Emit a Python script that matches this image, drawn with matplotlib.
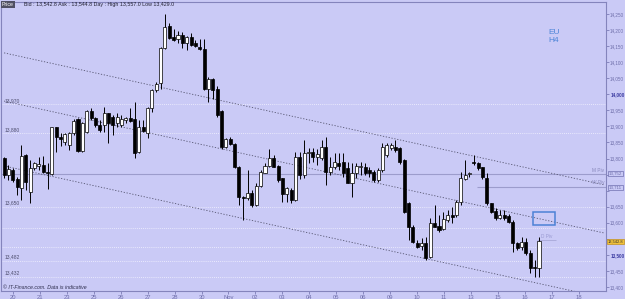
import numpy as np
import matplotlib.pyplot as plt
from matplotlib.patches import Rectangle

plt.rcParams['font.family'] = ['Liberation Sans', 'DejaVu Sans']

# EU H4 candles (price units)
opens = [13803, 13749, 13764, 13735, 13707, 13811, 13697, 13770, 13777, 13780,
         13759, 13752, 13897, 13868, 13851, 13842, 13879, 13922, 13824, 13884,
         13949, 13925, 13904, 13904, 13941, 13930, 13910, 13904, 13920, 13925,
         13922, 13821, 13899, 13879, 13956, 14013, 14034, 14143, 14213, 14177,
         14171, 14185, 14159, 14178, 14161, 14146, 14140, 14016, 14047, 14016,
         13949, 13835, 13860, 13845, 13775, 13681, 13676, 13694, 13655, 13715,
         13756, 13777, 13801, 13777, 13738, 13690, 13702, 13671, 13806, 13749,
         13816, 13821, 13804, 13801, 13837, 13759, 13773, 13787, 13790, 13770,
         13725, 13754, 13773, 13775, 13764, 13759, 13733, 13764, 13811, 13832,
         13837, 13832, 13795, 13661, 13586, 13538, 13528, 13536, 13494, 13598,
         13590, 13580, 13609, 13624, 13624, 13666, 13736, 13752, 13790, 13787,
         13773, 13738, 13661, 13638, 13614, 13624, 13621, 13603, 13536, 13524,
         13541, 13505, 13463, 13458]
highs = [13806, 13780, 13771, 13744, 13842, 13814, 13795, 13790, 13806, 13808,
         13785, 13899, 13899, 13878, 13879, 13884, 13922, 13925, 13915, 13951,
         13956, 13930, 13920, 13961, 13943, 13936, 13941, 13936, 13930, 13956,
         13977, 13920, 13920, 13961, 14016, 14039, 14148, 14250, 14221, 14202,
         14198, 14195, 14182, 14190, 14169, 14171, 14171, 14053, 14050, 14026,
         13951, 13863, 13868, 13847, 13777, 13683, 13764, 13702, 13723, 13764,
         13785, 13829, 13811, 13780, 13739, 13712, 13707, 13821, 13821, 13857,
         13832, 13832, 13830, 13858, 13868, 13806, 13816, 13816, 13816, 13790,
         13785, 13785, 13790, 13785, 13775, 13764, 13770, 13847, 13847, 13847,
         13858, 13837, 13800, 13666, 13593, 13546, 13551, 13557, 13614, 13655,
         13624, 13634, 13640, 13650, 13671, 13759, 13795, 13759, 13811, 13790,
         13775, 13754, 13663, 13645, 13640, 13640, 13627, 13609, 13541, 13557,
         13552, 13515, 13484, 13557]
lows = [13739, 13733, 13728, 13687, 13671, 13702, 13661, 13764, 13764, 13755,
        13705, 13749, 13821, 13840, 13842, 13827, 13873, 13821, 13821, 13879,
        13920, 13899, 13884, 13884, 13849, 13873, 13899, 13899, 13910, 13915,
        13801, 13818, 13884, 13863, 13946, 14008, 14016, 14140, 14171, 14167,
        14159, 14143, 14138, 14150, 14148, 14138, 14013, 13977, 13984, 13930,
        13829, 13832, 13842, 13770, 13655, 13609, 13671, 13650, 13652, 13712,
        13754, 13773, 13773, 13728, 13666, 13666, 13663, 13668, 13735, 13739,
        13785, 13790, 13780, 13795, 13718, 13749, 13767, 13764, 13744, 13723,
        13681, 13738, 13749, 13749, 13744, 13728, 13728, 13759, 13806, 13827,
        13821, 13783, 13630, 13546, 13536, 13520, 13515, 13484, 13489, 13586,
        13572, 13577, 13603, 13600, 13619, 13655, 13733, 13744, 13780, 13764,
        13735, 13655, 13630, 13609, 13611, 13609, 13598, 13510, 13515, 13515,
        13500, 13443, 13432, 13430]
closes = [13749, 13767, 13733, 13710, 13808, 13728, 13770, 13785, 13783, 13759,
          13754, 13897, 13868, 13860, 13876, 13879, 13918, 13824, 13910, 13949,
          13925, 13904, 13889, 13941, 13910, 13904, 13928, 13922, 13925, 13918,
          13818, 13899, 13887, 13956, 14013, 14032, 14143, 14210, 14174, 14169,
          14185, 14159, 14179, 14154, 14150, 14140, 14016, 14047, 14013, 13936,
          13835, 13860, 13845, 13773, 13679, 13676, 13694, 13655, 13715, 13759,
          13777, 13801, 13775, 13733, 13690, 13707, 13671, 13806, 13749, 13816,
          13821, 13804, 13815, 13837, 13759, 13775, 13790, 13777, 13754, 13725,
          13754, 13777, 13777, 13754, 13756, 13733, 13764, 13837, 13842, 13842,
          13827, 13790, 13635, 13586, 13541, 13526, 13536, 13489, 13598, 13588,
          13577, 13611, 13624, 13619, 13666, 13738, 13749, 13754, 13785, 13770,
          13744, 13661, 13635, 13614, 13624, 13614, 13603, 13536, 13520, 13541,
          13505, 13458, 13458, 13543]

day_labels = ['20', '21', '23', '25', '26', '27', '28', '30', 'Nov', '02', '03',
              '04', '05', '06', '09', '10', '11', '13', '15', '16', '17', '18']
level_prices = [13970, 13880, 13650, 13585, 13525, 13482, 13432]
level_labels = ['13,970', '13,880', '13,650', '', '', '13,482', '13,432']
m_piv = 13752
w_piv = 13711
d_piv = 13546
channel_start = [14129, 13979, 13777]   # trend lines at bar 0
channel_end = [13718, 13568, 13366]     # ... and at bar 138
zone = [13593, 13633]
bid, ask, day_high, day_low = 13542.8, 13544.8, 13557.0, 13429.0

bg = '#cacaf6'
axis_col = '#6e6eaa'

fig = plt.figure(figsize=(6.25, 2.99), dpi=100, facecolor=bg)
ax = fig.add_axes([0.0016, 0.0268, 0.968, 0.9665], facecolor=bg)
ax.set_xlim(-0.7, 138.4)
ax.set_ylim(13387.5, 14287.4)

# horizontal levels
for p, lab in zip(level_prices, level_labels):
    ax.axhline(p, color='#f4f4ff', lw=0.6, ls=(0, (1, 1.5)), zorder=1)
    if lab:
        ax.text(0.2, p + 3, lab, fontsize=3.6, color='#505070', va='bottom', ha='left')
ax.axhline(m_piv, color='#9c9ccc', lw=0.8, zorder=1)
ax.hlines(w_piv, 108.7, 138.4, color='#9c9ccc', lw=0.8, zorder=1)
ax.hlines(d_piv, 122.5, 127, color='#a8a8d8', lw=0.6, zorder=1)
ax.text(124.8, d_piv + 4, 'D Piv', fontsize=3.4, color='#9a9ad2', ha='center', va='bottom')
ax.text(138.0, m_piv + 3, 'M Piv', fontsize=3.4, color='#8888bb', ha='right', va='bottom')
ax.text(138.0, w_piv + 6, 'W Piv', fontsize=3.4, color='#8888bb', ha='right', va='bottom')

# channel
for s, e in zip(channel_start, channel_end):
    ax.plot([0, 138], [s, e], color='#555570', lw=0.6, ls=(0, (1.5, 2)), zorder=1)

ax.add_patch(Rectangle((121.6, zone[0]), 5.1, zone[1] - zone[0], fill=False,
                       ec='#4c82d6', lw=1.1, zorder=2))

# candles
x = np.arange(len(opens))
o = np.array(opens)
c = np.array(closes)
ax.vlines(x, lows, highs, color='black', lw=0.7, zorder=3)
body = np.maximum(np.abs(c - o), 1.5)
face = np.where(c >= o, 'white', 'black')
ax.bar(x, body, bottom=np.minimum(o, c), width=0.7, color=face,
       edgecolor='black', linewidth=0.5, zorder=4)

# axes styling
ax.yaxis.tick_right()
yt = np.arange(13400, 14251, 50)
hidden = (13750, 13700, 13550)  # covered by the boxed price labels
ax.set_yticks(yt)
ax.set_yticklabels(['' if v in hidden else f'{v:,}' for v in yt])
for lab, v in zip(ax.get_yticklabels(), yt):
    if v in (14000, 13500):
        lab.set_fontweight('bold')
        lab.set_color('#3a3aa0')
    else:
        lab.set_color(axis_col)
ax.tick_params(axis='y', labelsize=3.3, length=2, width=0.5, pad=1.0, color=axis_col)
ax.set_xticks(2 + 6.2 * np.arange(len(day_labels)))
ax.set_xticklabels(day_labels)
ax.tick_params(axis='x', labelsize=4.2, length=2, width=0.5, pad=1, color=axis_col,
               labelcolor=axis_col)
for sp in ax.spines.values():
    sp.set_color('#8484bc')
    sp.set_linewidth(0.8)

tr = ax.get_yaxis_transform()
for p, txt in [(m_piv, '13,752'), (w_piv, '13,711')]:
    ax.text(1.005, p, txt, transform=tr, fontsize=3.2, color=axis_col, va='center', ha='left',
            bbox=dict(boxstyle='square,pad=0.12', fc=bg, ec='#7070b0', lw=0.5), zorder=6)
ax.text(1.003, bid, f'{bid:,.1f}', transform=tr, fontsize=2.9, color='#303030', va='center',
        ha='left', bbox=dict(boxstyle='square,pad=0.12', fc='#f2c23a', ec='#c09020', lw=0.5),
        zorder=6)

ax.text(0.003, 0.004, '© IT-Finance.com. Data is indicative', transform=ax.transAxes,
        fontsize=3.8, style='italic', color='#303050', va='bottom')

# header and instrument
fig.text(0.003, 1 - 4.5 / 299, 'Price', fontsize=3.8, color='white', va='center',
         bbox=dict(boxstyle='square,pad=0.2', fc='#505064', ec='none'))
fig.text(24 / 625, 1 - 4.5 / 299,
         f'Bid : {bid:,.1f} Ask : {ask:,.1f} Day : High {day_high:,.1f} Low {day_low:,.1f}',
         fontsize=3.8, color='#202030', va='center')
fig.text(554 / 625, 1 - 33 / 299, 'EU', fontsize=6, color='#4f86d8', ha='center', va='center')
fig.text(554 / 625, 1 - 41 / 299, 'H4', fontsize=6, color='#4f86d8', ha='center', va='center')

fig.savefig('out.png', dpi=100, facecolor=bg)
